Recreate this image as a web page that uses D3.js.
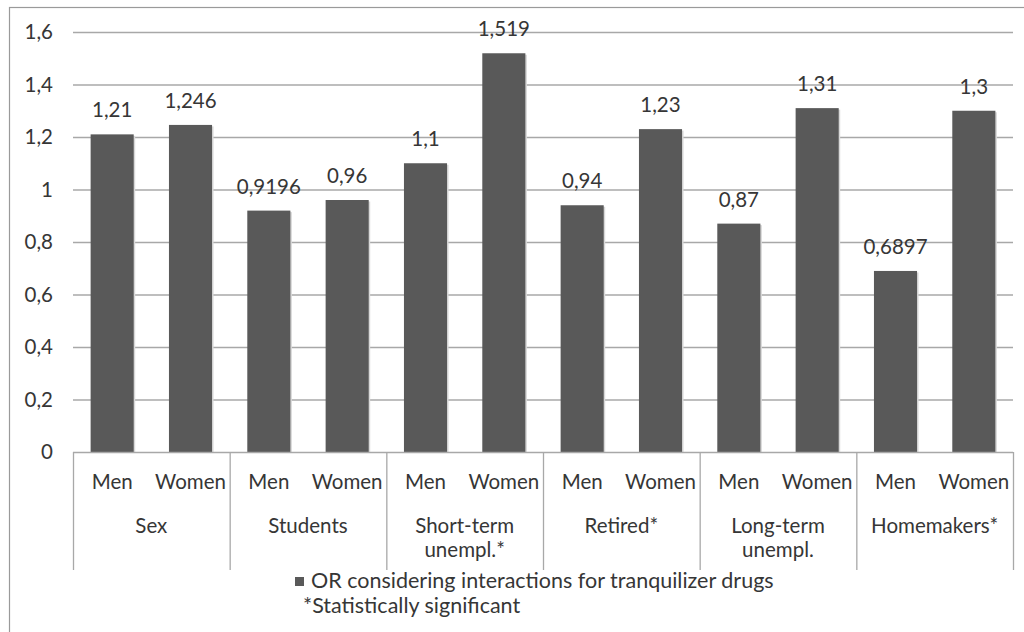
<!DOCTYPE html>
<html>
<head>
<meta charset="utf-8">
<script src="https://cdn.jsdelivr.net/npm/d3@7"></script>
<style>
  body { margin: 0; background: #fff; }
  text { font-family: Lato, "Open Sans", sans-serif; fill: #363636; }
</style>
</head>
<body>
<svg id="chart" width="1024" height="632"></svg>
<script>
// groups and the two bars in each
const groups = ["Sex", "Students", "Short-term|unempl.*", "Retired*", "Long-term|unempl.", "Homemakers*"];
const sexes = ["Men", "Women"];
const menValues = [1.21, 0.9196, 1.1, 0.94, 0.87, 0.6897];
const womenValues = [1.246, 0.96, 1.519, 1.23, 1.31, 1.3];
const yTicks = [0, 0.2, 0.4, 0.6, 0.8, 1, 1.2, 1.4, 1.6];
const legendLabel = "OR considering interactions for tranquilizer drugs";
const noteLabel = "*Statistically significant";

const svg = d3.select("#chart");
const plotLeft = 73, plotRight = 1013, plotTop = 32, plotBottom = 452;
const fontSize = "20.5px";

// frame (only top and left edges visible in the picture)
svg.append("rect")
  .attr("x", 9.5).attr("y", 7.5)
  .attr("width", 1030).attr("height", 640)
  .attr("fill", "none").attr("stroke", "#9a9a9a").attr("stroke-width", 1.2);

const fmt = v => String(v).replace(".", ",");

const y = d3.scaleLinear().domain([0, 1.6]).range([plotBottom, plotTop]);
const x0 = d3.scaleBand().domain(groups).range([plotLeft, plotRight]);
const x1 = d3.scaleBand().domain(sexes).range([0, x0.bandwidth()]).paddingInner(0.45).paddingOuter(0.225);

// gridlines
svg.append("g").selectAll("line")
  .data(yTicks.filter(d => d > 0))
  .join("line")
  .attr("x1", plotLeft).attr("x2", plotRight)
  .attr("y1", d => y(d) + 0.5).attr("y2", d => y(d) + 0.5)
  .attr("stroke", "#a8a8a8").attr("stroke-width", 1.3);

// y axis labels
const yAxis = svg.append("g")
  .attr("transform", `translate(${plotLeft},0)`)
  .call(d3.axisLeft(y).tickValues(yTicks).tickFormat(fmt).tickSize(0).tickPadding(20));
yAxis.select(".domain").remove();
yAxis.selectAll("text").style("font-size", fontSize).attr("fill", "#363636")
  .style("font-family", "Lato, sans-serif");

const rows = groups.map((g, i) => ({
  group: g,
  bars: [
    { sex: "Men", value: menValues[i] },
    { sex: "Women", value: womenValues[i] }
  ]
}));

const gGroups = svg.append("g").selectAll("g")
  .data(rows)
  .join("g")
  .attr("transform", d => `translate(${x0(d.group)},0)`);

// soft bar shadow
gGroups.selectAll("rect.shadow")
  .data(d => d.bars)
  .join("rect")
  .attr("class", "shadow")
  .attr("x", d => x1(d.sex) + 1.5)
  .attr("y", d => y(d.value) + 1.5)
  .attr("width", x1.bandwidth())
  .attr("height", d => plotBottom - y(d.value) - 1.5)
  .attr("fill", "#d8d8d8");

gGroups.selectAll("rect.bar")
  .data(d => d.bars)
  .join("rect")
  .attr("class", "bar")
  .attr("x", d => x1(d.sex))
  .attr("y", d => y(d.value))
  .attr("width", x1.bandwidth())
  .attr("height", d => plotBottom - y(d.value))
  .attr("fill", "#595959");

gGroups.selectAll("text.val")
  .data(d => d.bars)
  .join("text")
  .attr("class", "val")
  .attr("x", d => x1(d.sex) + x1.bandwidth() / 2)
  .attr("y", d => y(d.value) - 17)
  .attr("text-anchor", "middle")
  .style("font-size", fontSize)
  .text(d => fmt(d.value));

// category labels
gGroups.selectAll("text.sex")
  .data(d => d.bars)
  .join("text")
  .attr("class", "sex")
  .attr("x", d => x1(d.sex) + x1.bandwidth() / 2)
  .attr("y", 489)
  .attr("text-anchor", "middle")
  .style("font-size", fontSize)
  .text(d => d.sex);

gGroups.append("text")
  .attr("x", x0.bandwidth() / 2)
  .attr("y", 533)
  .attr("text-anchor", "middle")
  .style("font-size", fontSize)
  .selectAll("tspan")
  .data(d => d.group.split("|"))
  .join("tspan")
  .attr("x", x0.bandwidth() / 2)
  .attr("dy", (d, i) => i === 0 ? 0 : 24)
  .text(d => d);

// x axis line and group dividers
svg.append("line")
  .attr("x1", plotLeft).attr("x2", plotRight)
  .attr("y1", plotBottom + 0.5).attr("y2", plotBottom + 0.5)
  .attr("stroke", "#a8a8a8").attr("stroke-width", 1.3);

svg.append("g").selectAll("line")
  .data(groups.map(g => x0(g)).concat([plotRight]))
  .join("line")
  .attr("x1", d => d + 0.5).attr("x2", d => d + 0.5)
  .attr("y1", plotBottom).attr("y2", 570)
  .attr("stroke", "#a8a8a8").attr("stroke-width", 1.3);

// legend
svg.append("rect")
  .attr("x", 295).attr("y", 577)
  .attr("width", 9).attr("height", 9)
  .attr("fill", "#595959");
svg.append("text")
  .attr("x", 311).attr("y", 588)
  .style("font-size", "21.5px")
  .text(legendLabel);
svg.append("text")
  .attr("x", 303).attr("y", 613)
  .style("font-size", "21.5px")
  .text(noteLabel);
</script>
</body>
</html>
